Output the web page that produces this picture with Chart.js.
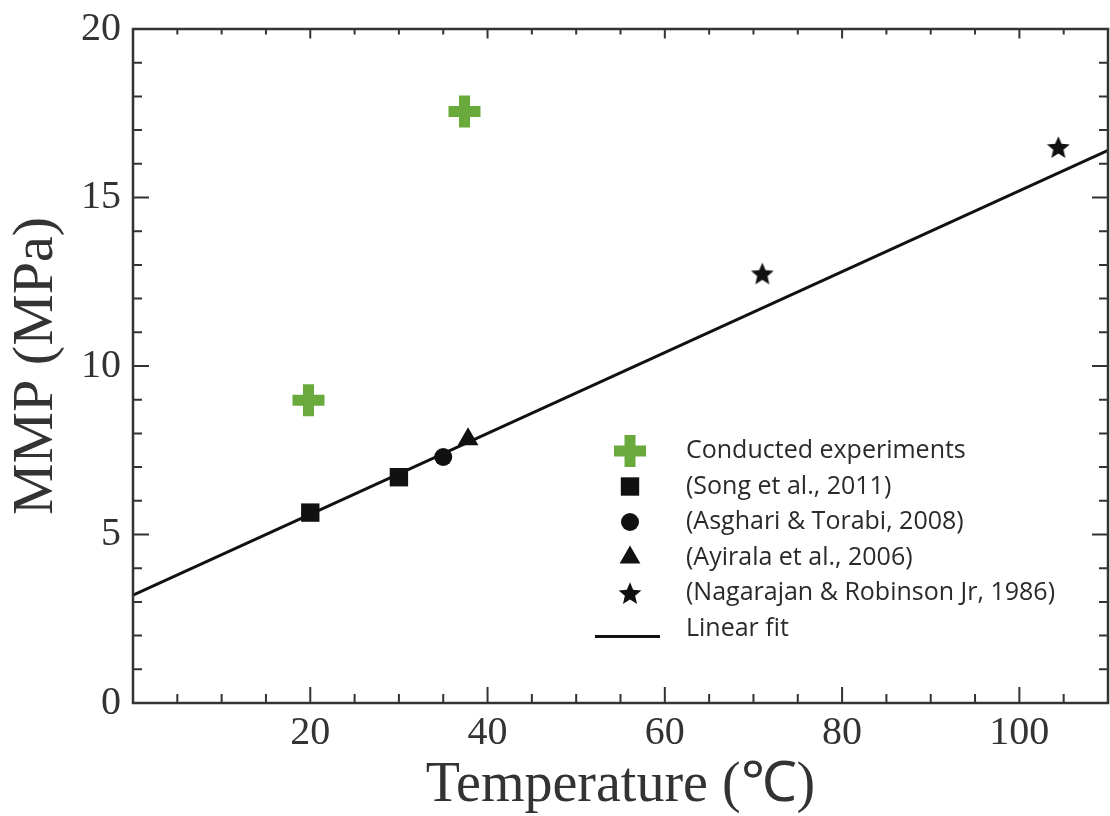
<!DOCTYPE html>
<html>
<head>
<meta charset="utf-8">
<script src="https://cdn.jsdelivr.net/npm/chart.js@4.4.0/dist/chart.umd.min.js"></script>
<style>
  html, body { margin: 0; padding: 0; background: #fff; overflow: hidden; }
  canvas { display: block; }
</style>
</head>
<body>
<canvas id="mmpChart" width="1110" height="816"></canvas>
<script>
// values
const experimentX = [19.8, 37.4];
const experimentY = [8.98, 17.55];
const songX = [20, 30];
const songY = [5.65, 6.7];
const asghariX = [35];
const asghariY = [7.3];
const ayiralaX = [37.8];
const ayiralaY = [7.83];
const nagarajanX = [71, 104.4];
const nagarajanY = [12.75, 16.5];
const fitX = [0, 110];
const fitY = [3.2, 16.4];
const xTickLabels = [20, 40, 60, 80, 100];
const yTickLabels = [0, 5, 10, 15, 20];

const green = "#6aaa3c";
const ink = "#111";
const axisColor = "#333";

function toPoints(xs, ys) {
  return xs.map((x, i) => ({ x: x, y: ys[i] }));
}

// filled five point star, used as a point style
function makeStar(size) {
  const c = document.createElement("canvas");
  c.width = size;
  c.height = size;
  const ctx = c.getContext("2d");
  const cx = size / 2, cy = size / 2 + size * 0.05;
  const outer = size / 2, inner = outer * 0.45;
  ctx.beginPath();
  for (let i = 0; i < 10; i++) {
    const r = i % 2 ? inner : outer;
    const a = -Math.PI / 2 + (i * Math.PI) / 5;
    ctx.lineTo(cx + r * Math.cos(a), cy + r * Math.sin(a));
  }
  ctx.closePath();
  ctx.fillStyle = ink;
  ctx.fill();
  return c;
}
const starImg = makeStar(24);

function drawMarker(ctx, ds, x, y) {
  const style = ds.pointStyle;
  const r = ds.pointRadius;
  ctx.save();
  ctx.fillStyle = ds.pointBackgroundColor;
  ctx.strokeStyle = ds.pointBorderColor;
  ctx.lineWidth = ds.pointBorderWidth;
  ctx.beginPath();
  if (style instanceof HTMLCanvasElement) {
    ctx.drawImage(style, x - style.width / 2, y - style.height / 2);
  } else if (style === "cross") {
    ctx.moveTo(x - r, y); ctx.lineTo(x + r, y);
    ctx.moveTo(x, y - r); ctx.lineTo(x, y + r);
    ctx.stroke();
  } else if (style === "rect") {
    const s = Math.SQRT1_2 * r;
    ctx.rect(x - s, y - s, 2 * s, 2 * s);
    ctx.fill();
  } else if (style === "circle") {
    ctx.arc(x, y, r, 0, Math.PI * 2);
    ctx.fill();
  } else if (style === "triangle") {
    let a = 0;
    for (let i = 0; i < 3; i++) {
      ctx.lineTo(x + Math.sin(a) * r, y - Math.cos(a) * r);
      a += (2 * Math.PI) / 3;
    }
    ctx.closePath();
    ctx.fill();
  }
  ctx.restore();
}

// legend drawn inside the plot, lower right
const insideLegend = {
  id: "insideLegend",
  afterDraw(chart) {
    const { ctx, chartArea } = chart;
    const markerX = chartArea.left + 497;
    const textX = chartArea.left + 553;
    const top = chartArea.top + 422;
    const step = 35.5;
    ctx.save();
    ctx.font = "25px 'Open Sans'";
    ctx.fillStyle = "#2a2a2a";
    ctx.textBaseline = "middle";
    chart.data.datasets.forEach((ds, i) => {
      const y = top + i * step;
      if (ds.showLine) {
        ctx.strokeStyle = ds.borderColor;
        ctx.lineWidth = 3;
        ctx.beginPath();
        ctx.moveTo(chartArea.left + 462, y + 8);
        ctx.lineTo(chartArea.left + 527, y + 8);
        ctx.stroke();
      } else {
        drawMarker(ctx, ds, markerX, y);
      }
      ctx.fillText(ds.label, textX, y);
    });
    ctx.restore();
  }
};

// box around the plot with inward ticks on all four sides
const frameTicks = {
  id: "frameTicks",
  afterDatasetsDraw(chart) {
    const { ctx, chartArea: a, scales } = chart;
    const xs = scales.x, ys = scales.y;
    ctx.save();
    ctx.strokeStyle = axisColor;
    ctx.lineWidth = 2.5;
    ctx.strokeRect(a.left, a.top, a.right - a.left, a.bottom - a.top);
    ctx.lineWidth = 2;
    ctx.beginPath();
    for (let v = 5; v < xs.max; v += 5) {
      const px = xs.getPixelForValue(v);
      const len = v % 20 === 0 ? 16 : 9;
      ctx.moveTo(px, a.bottom); ctx.lineTo(px, a.bottom - len);
      ctx.moveTo(px, a.top); ctx.lineTo(px, a.top + len * 0.6);
    }
    for (let v = 1; v < ys.max; v += 1) {
      const py = ys.getPixelForValue(v);
      const len = v % 5 === 0 ? 16 : 9;
      ctx.moveTo(a.left, py); ctx.lineTo(a.left + len, py);
      ctx.moveTo(a.right, py); ctx.lineTo(a.right - len, py);
    }
    ctx.stroke();
    ctx.restore();
  }
};

const ctx = document.getElementById("mmpChart");

const config = {
  type: "scatter",
  data: {
    datasets: [
      {
        label: "Conducted experiments",
        data: toPoints(experimentX, experimentY),
        pointStyle: "cross",
        pointRadius: 16,
        pointBorderWidth: 11,
        pointBorderColor: green,
        pointBackgroundColor: green,
        order: 1,
      },
      {
        label: "(Song et al., 2011)",
        data: toPoints(songX, songY),
        pointStyle: "rect",
        pointRadius: 13,
        pointBorderWidth: 0,
        pointBorderColor: ink,
        pointBackgroundColor: ink,
        order: 2,
      },
      {
        label: "(Asghari & Torabi, 2008)",
        data: toPoints(asghariX, asghariY),
        pointStyle: "circle",
        pointRadius: 9,
        pointBorderWidth: 0,
        pointBorderColor: ink,
        pointBackgroundColor: ink,
        order: 3,
      },
      {
        label: "(Ayirala et al., 2006)",
        data: toPoints(ayiralaX, ayiralaY),
        pointStyle: "triangle",
        pointRadius: 12,
        pointBorderWidth: 0,
        pointBorderColor: ink,
        pointBackgroundColor: ink,
        order: 4,
      },
      {
        label: "(Nagarajan & Robinson Jr, 1986)",
        data: toPoints(nagarajanX, nagarajanY),
        pointStyle: starImg,
        pointRadius: 12,
        pointBorderWidth: 0,
        pointBorderColor: ink,
        pointBackgroundColor: ink,
        order: 5,
      },
      {
        label: "Linear fit",
        data: toPoints(fitX, fitY),
        showLine: true,
        borderColor: ink,
        borderWidth: 3,
        pointRadius: 0,
        order: 10,
      },
    ],
  },
  options: {
    responsive: false,
    animation: false,
    devicePixelRatio: 1,
    layout: { autoPadding: false, padding: { top: 29, right: 2, left: 0, bottom: 0 } },
    plugins: {
      legend: { display: false },
      tooltip: { enabled: false },
    },
    scales: {
      x: {
        type: "linear",
        min: 0,
        max: 110,
        grid: { display: false, drawTicks: false },
        border: { display: false },
        afterBuildTicks: (s) => { s.ticks = xTickLabels.map((v) => ({ value: v })); },
        afterFit: (s) => {
          s.height = 113;
          s.paddingLeft = 0;
          s.paddingRight = 0;
        },
        ticks: {
          padding: 6,
          color: axisColor,
          font: { family: "'Liberation Serif', serif", size: 40 },
        },
        title: {
          display: true,
          text: "Temperature (℃)",
          color: axisColor,
          padding: { top: 0, bottom: -4 },
          font: { family: "'Liberation Serif', serif", size: 56 },
        },
      },
      y: {
        type: "linear",
        min: 0,
        max: 20,
        grid: { display: false, drawTicks: false },
        border: { display: false },
        afterBuildTicks: (s) => { s.ticks = yTickLabels.map((v) => ({ value: v })); },
        afterFit: (s) => {
          s.width = 133;
          s.paddingTop = 0;
          s.paddingBottom = 0;
        },
        ticks: {
          padding: 12,
          color: axisColor,
          font: { family: "'Liberation Serif', serif", size: 40 },
        },
        title: {
          display: true,
          text: "MMP (MPa)",
          color: axisColor,
          padding: { top: 2, bottom: 0 },
          font: { family: "'Liberation Serif', serif", size: 58 },
        },
      },
    },
  },
  plugins: [frameTicks, insideLegend],
};

new Chart(ctx, config);
</script>
</body>
</html>
